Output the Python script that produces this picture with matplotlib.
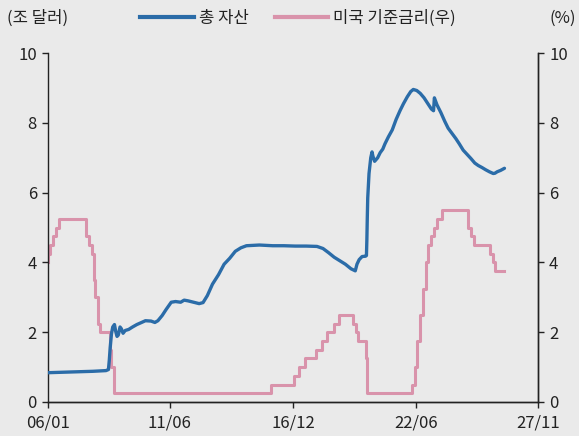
"""
Fed total assets vs. US policy rate (upper bound), 2006-2026.
Left: total assets (trillion USD), right: policy rate (%).
"""

import matplotlib
matplotlib.use("Agg")
import matplotlib.dates as mdates
import matplotlib.pyplot as plt
import numpy as np
import pandas as pd
from matplotlib.lines import Line2D

FONT = ["Noto Sans CJK KR", "DejaVu Sans"]
plt.rcParams["font.family"] = FONT

BG         = "#EAEAEA"
COLOR_ASSET = "#2B6CA8"
COLOR_RATE  = "#D993AB"

# total assets, trillion USD
asset_dates = [
    "2006-01-01", "2006-07-01", "2007-01-01", "2007-07-01", "2008-01-01",
    "2008-08-01", "2008-09-10", "2008-09-24", "2008-10-08", "2008-10-29",
    "2008-11-19", "2008-12-17", "2009-01-07", "2009-01-28", "2009-02-18",
    "2009-03-18", "2009-04-08", "2009-05-06", "2009-06-10", "2009-08-05",
    "2009-10-07", "2009-12-16", "2010-03-03", "2010-05-05", "2010-08-04",
    "2010-10-06", "2010-11-24", "2011-02-02", "2011-04-06", "2011-06-29",
    "2011-09-07", "2011-11-30", "2012-01-25", "2012-03-28", "2012-06-27",
    "2012-09-26", "2012-11-28", "2013-02-06", "2013-05-01", "2013-08-07",
    "2013-11-06", "2014-02-05", "2014-05-07", "2014-08-06", "2014-11-05",
    "2015-06-03", "2016-01-06", "2016-07-06", "2017-01-04", "2017-07-05",
    "2017-12-27", "2018-04-04", "2018-07-04", "2018-10-03", "2019-01-02",
    "2019-04-03", "2019-07-03", "2019-09-11", "2019-10-09", "2019-11-13",
    "2019-12-31", "2020-02-26", "2020-03-11", "2020-03-18", "2020-03-25",
    "2020-04-01", "2020-04-22", "2020-05-20", "2020-06-10", "2020-06-24",
    "2020-07-22", "2020-09-09", "2020-10-21", "2020-12-02", "2021-01-06",
    "2021-03-03", "2021-05-05", "2021-07-07", "2021-09-08", "2021-11-03",
    "2022-01-05", "2022-03-02", "2022-04-13", "2022-06-08", "2022-08-03",
    "2022-10-05", "2022-12-07", "2023-02-01", "2023-03-08", "2023-03-22",
    "2023-05-03", "2023-07-05", "2023-09-06", "2023-11-01", "2024-01-03",
    "2024-03-06", "2024-05-01", "2024-07-03", "2024-09-04", "2024-11-06",
    "2025-01-08", "2025-03-05", "2025-05-07", "2025-07-02", "2025-09-03",
    "2025-11-05", "2025-12-03", "2026-01-07", "2026-03-04", "2026-05-06",
]
asset_vals = [
    0.84, 0.85, 0.86, 0.87, 0.88,
    0.90, 0.93, 1.20, 1.55, 1.95,
    2.15, 2.22, 2.02, 1.88, 1.92,
    2.15, 2.10, 1.97, 2.05, 2.08,
    2.15, 2.22, 2.28, 2.33, 2.32,
    2.28, 2.33, 2.48, 2.65, 2.86,
    2.88, 2.86, 2.92, 2.90, 2.86,
    2.82, 2.85, 3.05, 3.38, 3.65,
    3.95, 4.12, 4.32, 4.42, 4.48,
    4.50, 4.48, 4.48, 4.47, 4.47,
    4.46, 4.40, 4.28, 4.15, 4.05,
    3.95, 3.82, 3.76, 3.95, 4.08,
    4.17, 4.18, 4.20, 4.65, 5.30,
    5.85, 6.55, 7.00, 7.17, 7.05,
    6.90, 7.00, 7.15, 7.25, 7.40,
    7.60, 7.80, 8.10, 8.35, 8.55,
    8.75, 8.90, 8.96, 8.93, 8.85,
    8.72, 8.55, 8.40, 8.35, 8.72,
    8.52, 8.30, 8.05, 7.85, 7.70,
    7.55, 7.40, 7.22, 7.10, 6.98,
    6.85, 6.78, 6.72, 6.66, 6.60,
    6.55, 6.56, 6.60, 6.64, 6.70,
]

# policy rate upper bound, % (step series)
rate_dates = [
    "2006-01-01", "2006-01-05", "2006-01-31", "2006-03-28", "2006-05-10",
    "2006-06-29", "2007-09-18", "2007-10-31", "2007-12-11", "2008-01-22",
    "2008-01-30", "2008-03-18", "2008-04-30", "2008-10-08", "2008-10-29",
    "2008-12-16", "2015-12-16", "2016-12-14", "2017-03-15", "2017-06-14",
    "2017-12-13", "2018-03-21", "2018-06-13", "2018-09-26", "2018-12-19",
    "2019-07-31", "2019-09-18", "2019-10-30", "2020-03-03", "2020-03-15",
    "2022-03-16", "2022-05-04", "2022-06-15", "2022-07-27", "2022-09-21",
    "2022-11-02", "2022-12-14", "2023-02-01", "2023-03-22", "2023-05-03",
    "2023-07-26", "2024-09-18", "2024-11-07", "2024-12-18", "2025-09-17",
    "2025-10-29", "2025-12-10", "2026-05-06",
]
rate_vals = [
    4.00, 4.25, 4.50, 4.75, 5.00,
    5.25, 4.75, 4.50, 4.25, 3.50,
    3.00, 2.25, 2.00, 1.50, 1.00,
    0.25, 0.50, 0.75, 1.00, 1.25,
    1.50, 1.75, 2.00, 2.25, 2.50,
    2.25, 2.00, 1.75, 1.25, 0.25,
    0.50, 1.00, 1.75, 2.50, 3.25,
    4.00, 4.50, 4.75, 5.00, 5.25,
    5.50, 5.00, 4.75, 4.50, 4.25,
    4.00, 3.75, 3.75,
]

x_ticks  = ["2006-01-01", "2011-06-01", "2016-12-01", "2022-06-01", "2027-11-01"]
y_ticks  = [0, 2, 4, 6, 8, 10]

fig = plt.figure(figsize=(5.79, 4.36), dpi=100, facecolor=BG)
ax = fig.add_axes([0.083, 0.078, 0.846, 0.800], facecolor=BG)
ax2 = ax.twinx()

ax.plot(pd.to_datetime(asset_dates), asset_vals, color=COLOR_ASSET,
        linewidth=2.4, solid_capstyle="round", zorder=3)
ax2.plot(pd.to_datetime(rate_dates), rate_vals, color=COLOR_RATE,
         linewidth=2.2, drawstyle="steps-post", zorder=2)
ax.set_zorder(ax2.get_zorder() + 1)
ax.patch.set_visible(False)
ax2.patch.set_facecolor(BG)

xt = pd.to_datetime(x_ticks)
for a in (ax, ax2):
    a.set_xlim(xt[0], xt[-1])
    a.set_ylim(0, 10)
    a.set_yticks(y_ticks)
    a.spines["top"].set_visible(False)
    for s in ("left", "right", "bottom"):
        a.spines[s].set_color("#222")
        a.spines[s].set_linewidth(1.0)
    a.tick_params(labelsize=12, colors="#222", length=4, width=1.0, pad=4)

ax.set_xticks(xt)
ax.xaxis.set_major_formatter(mdates.DateFormatter("%y/%m"))
ax.tick_params(axis="x", pad=5)
ax2.spines["left"].set_visible(False)

fig.text(0.012, 0.958, "(조 달러)", fontsize=12, va="center", ha="left", color="#222")
fig.text(0.995, 0.958, "(%)", fontsize=12, va="center", ha="right", color="#222")

handles = [Line2D([], [], color=COLOR_ASSET, linewidth=3.0),
           Line2D([], [], color=COLOR_RATE, linewidth=3.0)]
fig.legend(handles, ["총 자산", "미국 기준금리(우)"], loc="center",
           bbox_to_anchor=(0.515, 0.958), ncol=2, frameon=False, fontsize=12,
           handlelength=3.2, handletextpad=0.3, columnspacing=1.6,
           borderpad=0, labelcolor="#222")

fig.savefig("out.png", dpi=100, facecolor=BG)
print("Wrote out.png")
